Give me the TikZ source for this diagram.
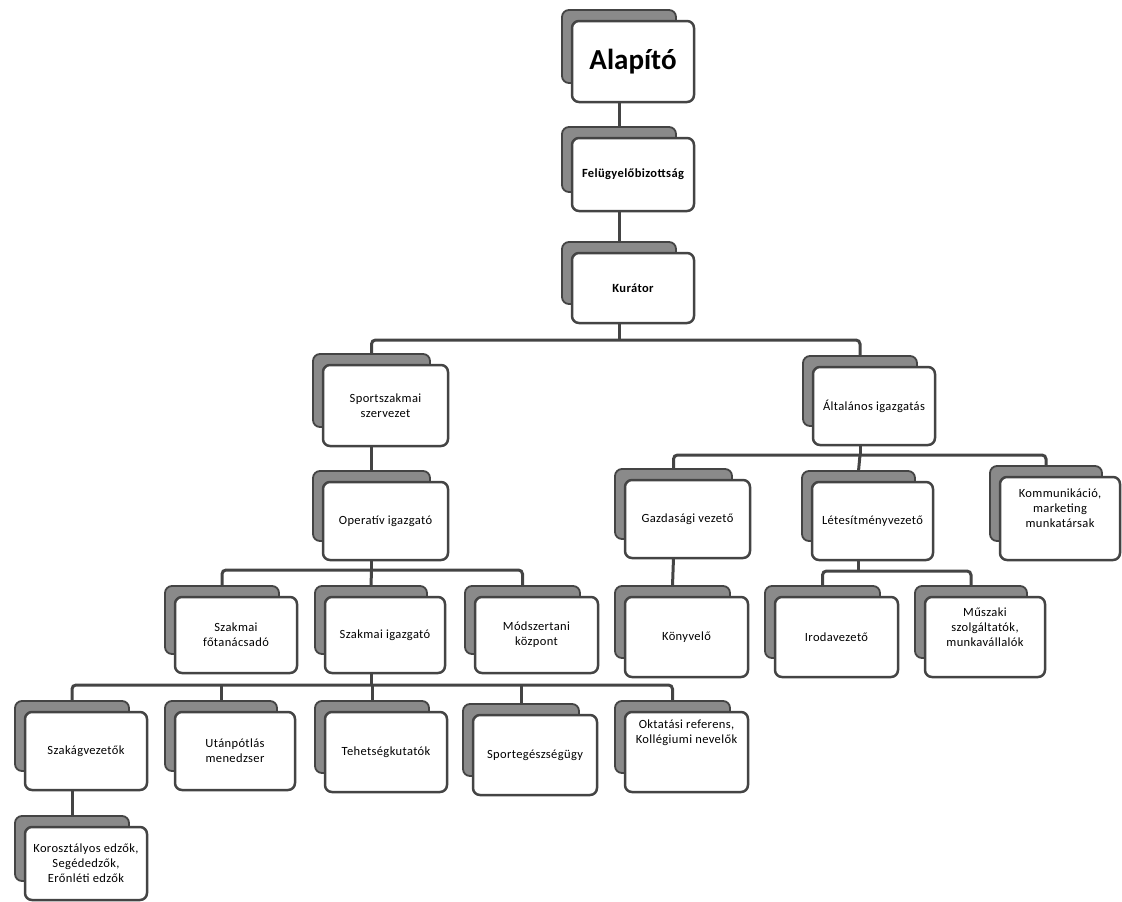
\documentclass[tikz,border=0pt]{standalone}
\usepackage{fontspec}
\setmainfont{Carlito}
\usetikzlibrary{calc}
\pgfdeclarelayer{canvas}
\pgfdeclarelayer{bg}
\pgfsetlayers{canvas,bg,main}
\definecolor{edge}{HTML}{444444}
\definecolor{backfill}{HTML}{8A8A8A}
\tikzset{
  frontbox/.style={draw=edge, line width=2.5pt, fill=white, rounded corners=7pt, align=center,
    font=\fontsize{12.5}{15}\selectfont\addfontfeatures{LetterSpace=3}, inner sep=2pt, outer sep=0pt},
  backbox/.style={draw=edge, line width=1.8pt, fill=backfill, rounded corners=7pt, inner sep=0pt, outer sep=0pt},
  conn/.style={draw=edge, line width=3pt},
  bus/.style={conn, rounded corners=4pt},
}
\newcommand\card[6]{%
  \node[backbox, minimum width={#4-#2-8}, minimum height={#5-#3-8}] (#1-b)
    at ({(#2-10+#4-18)/2},{(#3-11+#5-19)/2}) {};
  \node[frontbox, minimum width={#4-#2}, minimum height={#5-#3}] (#1)
    at ({(#2+#4)/2},{(#3+#5)/2}) {#6};
}
\begin{document}
\begin{tikzpicture}[x=1pt,y=-1pt]
\begin{pgfonlayer}{canvas}
\fill[white] (0,0) rectangle (1122,902);
\end{pgfonlayer}
\useasboundingbox (0,0) rectangle (1122,902);
% level 0-2
\card{alap}{572}{21}{694}{102}{\fontsize{29}{32}\selectfont\addfontfeatures{LetterSpace=0}\bfseries Alapító}
\card{feli}{572}{138}{694}{211}{\bfseries Felügyelőbizottság}
\card{kur}{572}{253}{694}{323}{\bfseries Kurátor}
% level 3
\card{sport}{323}{365}{448}{446}{Sportszakmai\\szervezet}
\card{alt}{813}{367}{935}{445}{Általános igazgatás}
% level 4
\card{oper}{323}{482}{448}{560}{Operatív igazgató}
\card{gazd}{625}{480}{750}{558}{Gazdasági vezető}
\card{letes}{812}{482}{933}{560}{Létesítményvezető}
\card{komm}{1000}{477}{1120}{560}{Kommunikáció,\\marketing\\munkatársak\\[6pt]}
% level 5
\card{fotan}{175}{597}{297}{673}{Szakmai\\főtanácsadó}
\card{szig}{325}{597}{445}{673}{Szakmai igazgató}
\card{modsz}{475}{597}{598}{673}{Módszertani\\központ}
\card{konyv}{625}{597}{748}{677}{Könyvelő}
\card{iroda}{775}{597}{898}{677}{Irodavezető}
\card{muszaki}{925}{597}{1045}{677}{Műszaki\\szolgáltatók,\\munkavállalók\\[4pt]}
% level 6
\card{szakag}{25}{712}{147}{790}{Szakágvezetők}
\card{utan}{175}{712}{295}{790}{Utánpótlás\\menedzser}
\card{tehet}{325}{712}{447}{792}{Tehetségkutatók}
\card{sporteg}{473}{715}{597}{795}{Sportegészségügy}
\card{oktat}{625}{712}{748}{792}{Oktatási referens,\\Kollégiumi nevelők\\[26pt]}
% level 7
\card{koros}{25}{827}{147}{900}{Korosztályos edzők,\\Segédedzők,\\Erőnléti edzők}
% connectors
\begin{pgfonlayer}{bg}
\draw[conn] (alap.south -| alap-b.center) -- (feli-b.north);
\draw[conn] (feli.south -| feli-b.center) -- (kur-b.north);
\coordinate (b1) at ($(kur.south -| kur-b.center)+(0,17)$);
\draw[conn] (kur.south -| kur-b.center) -- (b1);
\draw[bus] (sport-b.north) |- (b1) -| (alt-b.north);
\draw[conn] (sport.south -| sport-b.center) -- (oper-b.north);
\coordinate (b2) at ($(oper.south -| oper-b.center)+(0,10)$);
\draw[conn] (oper.south -| oper-b.center) -- (b2);
\draw[bus] (fotan-b.north) |- (b2) -| (modsz-b.north);
\draw[conn] (b2) -- (szig-b.north);
\coordinate (b3) at ($(szig.south -| szig-b.center)+(0,12)$);
\draw[conn] (szig.south -| szig-b.center) -- (b3);
\draw[bus] (szakag-b.north) |- (b3) -| (oktat-b.north);
\draw[conn] (utan-b.north) -- (utan-b.north |- b3);
\draw[conn] (tehet-b.north) -- (tehet-b.north |- b3);
\draw[conn] (sporteg-b.north) -- (sporteg-b.north |- b3);
\draw[conn] (szakag.south -| szakag-b.center) -- (koros-b.north);
\coordinate (b4) at ($(alt.south -| alt-b.center)+(0,10)$);
\draw[conn] (alt.south -| alt-b.center) -- (b4);
\draw[bus] (gazd-b.north) |- (b4) -| (komm-b.north);
\draw[conn] (b4) -- (letes-b.north);
\draw[conn] (gazd.south -| gazd-b.center) -- (konyv-b.north);
\coordinate (b5) at ($(letes.south -| letes-b.center)+(0,11)$);
\draw[conn] (letes.south -| letes-b.center) -- (b5);
\draw[bus] (iroda-b.north) |- (b5) -| (muszaki-b.north);
\end{pgfonlayer}
\end{tikzpicture}
\end{document}
